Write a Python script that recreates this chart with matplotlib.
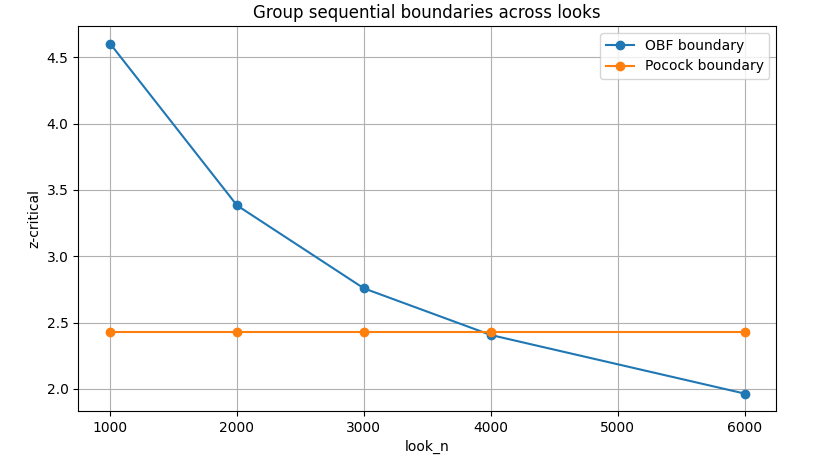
import matplotlib
matplotlib.use('Agg')
import matplotlib.pyplot as plt

look_n = [1000, 2000, 3000, 4000, 6000]
obf_boundary = [4.605, 3.384, 2.758, 2.406, 1.964]
pocock_boundary = [2.428, 2.428, 2.428, 2.428, 2.428]

fig = plt.figure(figsize=(8.35, 4.65), dpi=100)
ax = fig.add_axes([0.0938, 0.116, 0.8359, 0.828])
ax.plot(look_n, obf_boundary, marker='o', label='OBF boundary')
ax.plot(look_n, pocock_boundary, marker='o', label='Pocock boundary')
ax.set_xlabel('look_n')
ax.set_ylabel('z-critical')
ax.set_title('Group sequential boundaries across looks')
ax.grid(True)
ax.legend()
fig.savefig('out.png', dpi=100)
